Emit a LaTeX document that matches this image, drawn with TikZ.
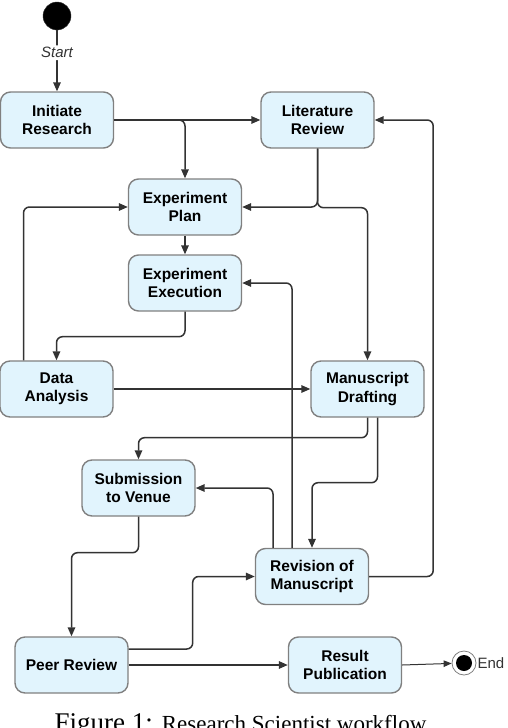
\documentclass[tikz,border=0pt]{standalone}
\usepackage{fontspec}
\setmainfont{Liberation Sans}
\newfontfamily\capfont{Liberation Serif}
\usepackage{xcolor}
\usetikzlibrary{arrows.meta, positioning, shapes}
\definecolor{boxfill}{HTML}{E1F4FD}
\definecolor{boxline}{HTML}{808080}
\definecolor{lineclr}{HTML}{333333}

\begin{document}
\begin{tikzpicture}[
    x=1pt, y=-1pt,
    box/.style={rectangle, draw=boxline, line width=1.4pt, rounded corners=10pt,
                minimum width=113pt, minimum height=56pt, align=center, fill=boxfill,
                font=\fontsize{15.5}{18.5}\selectfont\bfseries},
    arrow/.style={-{Triangle[length=9pt, width=7.5pt]}, line width=1.5pt, draw=lineclr,
                  rounded corners=6pt},
    thinarrow/.style={-{Triangle[length=8pt, width=6.5pt]}, line width=1pt, draw=lineclr},
    note/.style={text=lineclr, font=\fontsize{15}{18}\selectfont}
]
\clip (0,0) rectangle (508,728);
\useasboundingbox (0,0) rectangle (508,728);

\node[circle, fill=black, draw=lineclr, minimum size=28pt, inner sep=0pt] (start) at (57,16) {};
\node[box] (init)  at (57,120)    {Initiate\\Research};
\node[box] (lit)   at (317.5,120) {Literature\\Review};
\node[box] (plan)  at (185,207)   {Experiment\\Plan};
\node[box] (exec)  at (185,283)   {Experiment\\Execution};
\node[box] (data)  at (56.5,389)  {Data\\Analysis};
\node[box] (draft) at (367.5,389) {Manuscript\\Drafting};
\node[box] (sub)   at (138.5,488) {Submission\\to Venue};
\node[box] (rev)   at (312,576.5) {Revision of\\Manuscript};
\node[box] (peer)  at (71.5,665)  {Peer Review};
\node[box] (pub)   at (345,665)   {Result\\Publication};
\node[circle, draw=boxline, line width=0.8pt, fill=white, minimum size=24pt, inner sep=0pt] (endn) at (464,663) {};
\fill[black] (endn.center) circle (8pt);
\node[note, anchor=west, inner sep=1pt] (endlbl) at (endn.east) {End};

\draw[arrow] (start) -- node[note, pos=0.37, fill=white, inner sep=2pt, font=\fontsize{15}{18}\selectfont\itshape] {Start} (init);
\draw[arrow] (init.east) -- (lit.west);
\draw[arrow] (init.east) -| (plan.north);
\draw[arrow] (lit.south) |- (plan.east);
\draw[arrow] (lit.south) -- ++(0,59) -| (draft.north);
\draw[arrow] (plan) -- (exec);
\draw[arrow] (exec.south) -- ++(0,25) -| (data.north);
\draw[arrow] ([xshift=-33pt]data.north) |- (plan.west);
\draw[arrow] (data.east) -- (draft.west);
\draw[arrow] (draft.south) -- ++(0,20) -| (sub.north);
\draw[arrow] ([xshift=10pt]draft.south) -- ++(0,65) -| (rev.north);
\draw[arrow] ([xshift=-39pt]rev.north) |- (sub.east);
\draw[arrow] ([xshift=-20pt]rev.north) |- (exec.east);
\draw[arrow] (rev.east) -- ++(64,0) |- (lit.east);
\draw[arrow] (sub.south) -- ++(0,36) -| (peer.north);
\draw[arrow] ([yshift=16pt]peer.east) -- ++(64,0) |- (rev.west);
\draw[arrow] (peer.east) -- (pub.west);
\draw[thinarrow] (pub.east) -- (endn);

\node[anchor=base, inner sep=0pt] (caption) at (240.5,731)
    {\capfont\fontsize{27}{30}\selectfont Figure 1: \fontsize{23}{26}\selectfont Research Scientist workflow};
\end{tikzpicture}
\end{document}
